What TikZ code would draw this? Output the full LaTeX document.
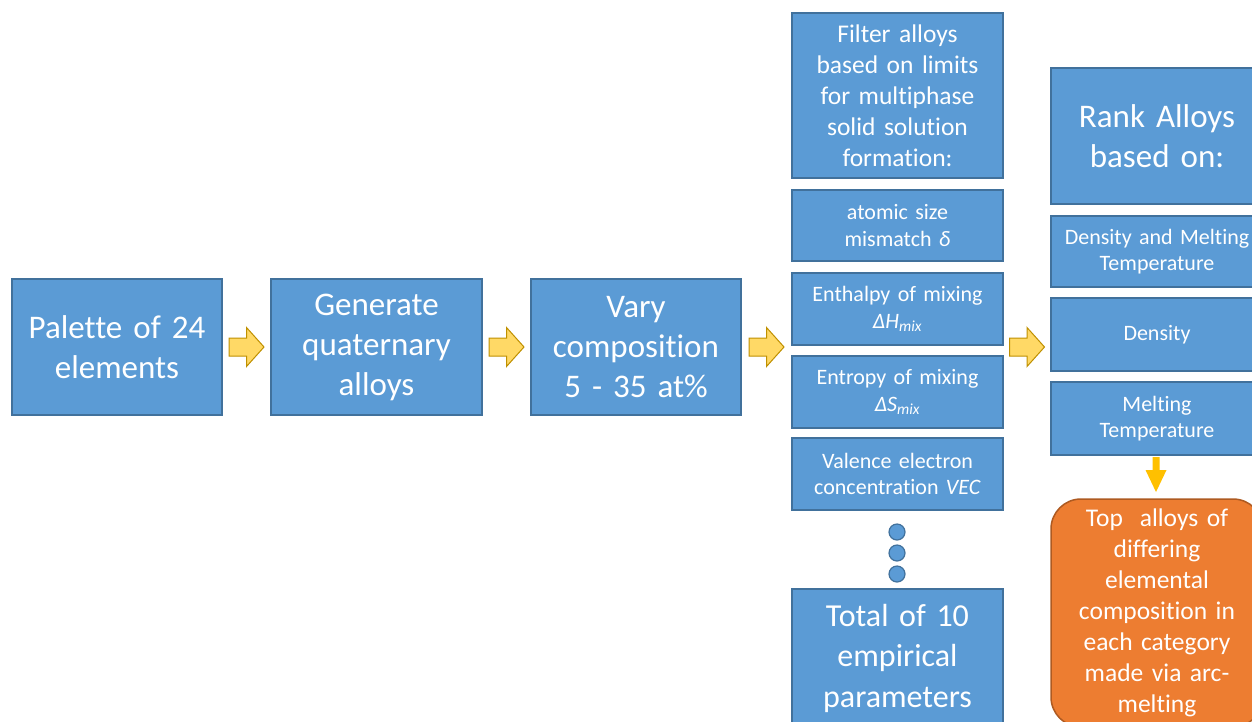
\documentclass[tikz,border=0pt]{standalone}
\usepackage{fontspec}
\setmainfont{Carlito}[Ligatures=NoCommon]
\usetikzlibrary{calc}
\definecolor{boxblue}{HTML}{5B9BD5}
\definecolor{boxedge}{HTML}{41719C}
\definecolor{orangefill}{HTML}{ED7D31}
\definecolor{orangeedge}{HTML}{AE5A21}
\definecolor{arrowfill}{HTML}{FFD966}
\definecolor{arrowedge}{HTML}{BF9000}
\definecolor{downarrowcol}{HTML}{FFC000}
\begin{document}
\begin{tikzpicture}[x=1pt,y=-1pt,
  box/.style={draw=boxedge, fill=boxblue, line width=1.5pt, text=white, align=center, inner sep=0pt},
  bigtext/.style={font=\fontsize{33}{40}\selectfont},
  totaltext/.style={font=\fontsize{32}{40.5}\selectfont},
  midtext/.style={font=\fontsize{25.5}{31}\selectfont},
  smalltext/.style={font=\fontsize{22}{26.5}\selectfont},
  colA/.style={minimum width=210pt, text width=200pt},
  colB/.style={minimum width=211pt, text width=200pt},
  colC/.style={minimum width=212pt, text width=205pt},
  orangebox/.style={draw=orangeedge, fill=orangefill, line width=1.5pt, text=white, align=center, inner sep=0pt, rounded corners=30pt},
  dot/.style={circle, draw=boxedge, fill=boxblue, line width=1.2pt, minimum size=16pt, inner sep=0pt},
  blockarrow/.pic={\draw[fill=arrowfill, draw=arrowedge, line width=1pt, line join=miter]
     (-17.5,-9) -- (0,-9) -- (0,-19.5) -- (17.5,0) -- (0,19.5) -- (0,9) -- (-17.5,9) -- cycle;},
  downarrow/.pic={\fill[downarrowcol]
     (-3.5,-17.5) -- (3.5,-17.5) -- (3.5,-4.5) -- (10.5,-4.5) -- (0,17.5) -- (-10.5,-4.5) -- (-3.5,-4.5) -- cycle;}
]
\clip (0,0) rectangle (1252,721);
\fill[white] (0,0) rectangle (1252,721);

% main row
\node[box, bigtext, colA, minimum height=136pt] (b1) at (117,347) {Palette of 24\\elements};
\node[box, bigtext, colB, minimum height=136pt] (b2) at (376.5,347) {Generate\\quaternary\\alloys};
\node[box, bigtext, colA, minimum height=136pt] (b3) at (636,347) {Vary\\composition\\5 - 35 at\%};

% filter column
\node[box, midtext, colB, minimum height=165pt] (filter) at (897.5,95.5) {Filter alloys\\based on limits\\for multiphase\\solid solution\\formation:};
\node[box, smalltext, colB, minimum height=71pt] (atomic) at (897.5,225.5) {atomic size\\mismatch \textit{δ}};
\node[box, smalltext, colB, minimum height=72pt] (enthalpy) at (897.5,309) {Enthalpy of mixing\\\textit{ΔH}\textsubscript{\textit{mix}}};
\node[box, smalltext, colB, minimum height=72pt] (entropy) at (897.5,392) {Entropy of mixing\\\textit{ΔS}\textsubscript{\textit{mix}}};
\node[box, smalltext, colB, minimum height=72pt] (valence) at (897.5,474) {Valence electron\\concentration \textit{VEC}};
\node[box, totaltext, colB, minimum height=138pt] (total) at (897.5,658) {Total of 10\\empirical\\parameters};

\coordinate (dm) at ($(valence.south)!0.5!(total.north)$);
\node[dot] (d1) at ($(dm)+(-0.5,-17.5)$) {};
\node[dot] (d2) at ($(dm)+(-0.5,3.5)$) {};
\node[dot] (d3) at ($(dm)+(-0.5,24.5)$) {};

% rank column
\node[box, bigtext, colC, minimum height=136pt] (rank) at (1157,136) {Rank Alloys\\based on:};
\node[box, smalltext, colC, minimum height=71pt] (dmt) at (1157,251.5) {Density and Melting\\Temperature};
\node[box, smalltext, colC, minimum height=73pt] (dens) at (1157,334.5) {Density};
\node[box, smalltext, colC, minimum height=73pt] (melt) at (1157,418.5) {Melting\\Temperature};
\node[orangebox, midtext, minimum width=212pt, text width=205pt, minimum height=228pt] (top) at (1157,613)
  {Top~ alloys of\\differing\\elemental\\composition in\\each category\\made via arc-\\melting};

% block arrows
\pic at ($(b1.east)!0.5!(b2.west)$) {blockarrow};
\pic at ($(b2.east)!0.5!(b3.west)$) {blockarrow};
\pic at ($(b3.east)!0.5!(b3.east -| enthalpy.west)$) {blockarrow};
\pic at ($(enthalpy.east |- b3.east)!0.5!(dens.west |- b3.east)$) {blockarrow};
\pic at ($($(melt.south)!0.5!(top.north)$)+(-1,-2.5)$) {downarrow};
\end{tikzpicture}
\end{document}
